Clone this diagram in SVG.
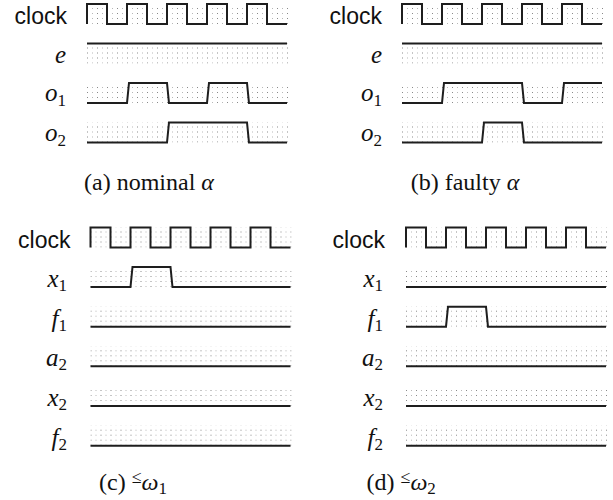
<svg xmlns="http://www.w3.org/2000/svg" width="613" height="500" viewBox="0 0 613 500">
<style>
.w{fill:none;stroke:#1e1e1e;stroke-width:2;stroke-linejoin:miter}
.g{fill:url(#dots)}
.ck{font-family:"Liberation Sans",Arial,sans-serif;font-size:23px;fill:#111}
.m{font-family:"Liberation Serif","Times New Roman",serif;font-size:25px;font-style:italic;fill:#111}
.s{font-style:normal;font-size:17px}
.cap{font-family:"Liberation Serif","Times New Roman",serif;font-size:24px;fill:#111}
</style>
<defs>
<pattern id="dots" patternUnits="userSpaceOnUse" width="10" height="5">
<rect x="0" y="4" width="1" height="1" fill="#8a8a8a"/>
<rect x="5" y="4" width="1" height="1" fill="#b8b8b8"/>
</pattern>
</defs>
<rect width="613" height="500" fill="#fff"/>

<!-- grids -->
<g id="grids">
<rect class="g" x="0" y="0" width="201" height="20" transform="translate(87,4)"/>
<rect class="g" x="0" y="0" width="201" height="20" transform="translate(87,43.5)"/>
<rect class="g" x="0" y="0" width="201" height="20" transform="translate(87,83)"/>
<rect class="g" x="0" y="0" width="201" height="20" transform="translate(87,122.5)"/>
<rect class="g" x="0" y="0" width="201" height="20" transform="translate(402,4)"/>
<rect class="g" x="0" y="0" width="201" height="20" transform="translate(402,43.5)"/>
<rect class="g" x="0" y="0" width="201" height="20" transform="translate(402,83)"/>
<rect class="g" x="0" y="0" width="201" height="20" transform="translate(402,122.5)"/>
<rect class="g" x="0" y="0" width="201" height="20" transform="translate(90.5,227.5)"/>
<rect class="g" x="0" y="0" width="201" height="20" transform="translate(90.5,267)"/>
<rect class="g" x="0" y="0" width="201" height="20" transform="translate(90.5,306.7)"/>
<rect class="g" x="0" y="0" width="201" height="20" transform="translate(90.5,346.3)"/>
<rect class="g" x="0" y="0" width="201" height="20" transform="translate(90.5,386)"/>
<rect class="g" x="0" y="0" width="201" height="20" transform="translate(90.5,425.7)"/>
<rect class="g" x="0" y="0" width="201" height="20" transform="translate(406,227.5)"/>
<rect class="g" x="0" y="0" width="201" height="20" transform="translate(406,267)"/>
<rect class="g" x="0" y="0" width="201" height="20" transform="translate(406,306.7)"/>
<rect class="g" x="0" y="0" width="201" height="20" transform="translate(406,346.3)"/>
<rect class="g" x="0" y="0" width="201" height="20" transform="translate(406,386)"/>
<rect class="g" x="0" y="0" width="201" height="20" transform="translate(406,425.7)"/>
</g>

<!-- panel a -->
<g id="panel-a">
<text class="ck" x="67" y="24" text-anchor="end">clock</text>
<text class="m" x="66" y="63" text-anchor="end">e</text>
<text class="m" x="66" y="101" text-anchor="end">o<tspan class="s" dy="5">1</tspan></text>
<text class="m" x="66" y="140.5" text-anchor="end">o<tspan class="s" dy="5">2</tspan></text>
<path class="w" d="M87 24V4h20v20h20v-20h20v20h20v-20h20v20h20v-20h20v20h20v-20h20v20h20"/>
<path class="w" d="M87 43.5H287"/>
<path class="w" d="M87 103H127L129 83H167L169 103H207L209 83H247L249 103H287"/>
<path class="w" d="M87 142.5H167L169 122.5H247L249 142.5H287"/>
<text class="cap" x="149" y="190" text-anchor="middle">(a) nominal <tspan font-style="italic">α</tspan></text>
</g>

<!-- panel b -->
<g id="panel-b">
<text class="ck" x="382" y="24" text-anchor="end">clock</text>
<text class="m" x="382" y="63" text-anchor="end">e</text>
<text class="m" x="382" y="101" text-anchor="end">o<tspan class="s" dy="5">1</tspan></text>
<text class="m" x="382" y="140.5" text-anchor="end">o<tspan class="s" dy="5">2</tspan></text>
<path class="w" d="M402 24V4h20v20h20v-20h20v20h20v-20h20v20h20v-20h20v20h20v-20h20v20h20"/>
<path class="w" d="M402 43.5H602"/>
<path class="w" d="M402 103H442L444 83H522L524 103H562L564 83H602"/>
<path class="w" d="M402 142.5H482L484 122.5H522L524 142.5H602"/>
<text class="cap" x="465" y="190" text-anchor="middle">(b) faulty <tspan font-style="italic">α</tspan></text>
</g>

<!-- panel c -->
<g id="panel-c">
<text class="ck" x="70.5" y="248" text-anchor="end">clock</text>
<text class="m" x="67" y="287" text-anchor="end">x<tspan class="s" dy="4">1</tspan></text>
<text class="m" x="67" y="326.5" text-anchor="end">f<tspan class="s" dy="4">1</tspan></text>
<text class="m" x="67" y="366" text-anchor="end">a<tspan class="s" dy="4">2</tspan></text>
<text class="m" x="67" y="405.5" text-anchor="end">x<tspan class="s" dy="4">2</tspan></text>
<text class="m" x="67" y="445.5" text-anchor="end">f<tspan class="s" dy="4">2</tspan></text>
<path class="w" d="M90.5 247.5V227.5h20v20h20v-20h20v20h20v-20h20v20h20v-20h20v20h20v-20h20v20h20"/>
<path class="w" d="M90.5 287H130.5L132.5 267H170.5L172.5 287H290.5"/>
<path class="w" d="M90.5 326.7H290.5"/>
<path class="w" d="M90.5 366.3H290.5"/>
<path class="w" d="M90.5 406H290.5"/>
<path class="w" d="M90.5 445.7H290.5"/>
<text class="cap" x="99" y="490">(c) <tspan font-size="18" dy="-7">≤</tspan><tspan font-style="italic" dy="7">ω</tspan><tspan font-size="17" dy="4">1</tspan></text>
</g>

<!-- panel d -->
<g id="panel-d">
<text class="ck" x="385" y="248" text-anchor="end">clock</text>
<text class="m" x="383" y="287" text-anchor="end">x<tspan class="s" dy="4">1</tspan></text>
<text class="m" x="383" y="326.5" text-anchor="end">f<tspan class="s" dy="4">1</tspan></text>
<text class="m" x="383" y="366" text-anchor="end">a<tspan class="s" dy="4">2</tspan></text>
<text class="m" x="383" y="405.5" text-anchor="end">x<tspan class="s" dy="4">2</tspan></text>
<text class="m" x="383" y="445.5" text-anchor="end">f<tspan class="s" dy="4">2</tspan></text>
<path class="w" d="M406 247.5V227.5h20v20h20v-20h20v20h20v-20h20v20h20v-20h20v20h20v-20h20v20h20"/>
<path class="w" d="M406 287H606"/>
<path class="w" d="M406 326.7H446L448 306.7H486L488 326.7H606"/>
<path class="w" d="M406 366.3H606"/>
<path class="w" d="M406 406H606"/>
<path class="w" d="M406 445.7H606"/>
<text class="cap" x="366.5" y="490">(d) <tspan font-size="18" dy="-7">≤</tspan><tspan font-style="italic" dy="7">ω</tspan><tspan font-size="17" dy="4">2</tspan></text>
</g>
</svg>
